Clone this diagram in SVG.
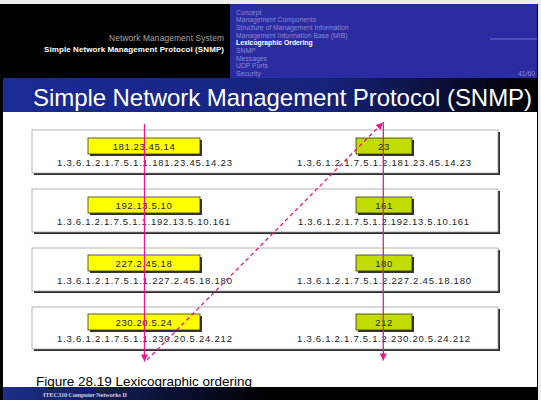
<svg xmlns="http://www.w3.org/2000/svg" width="541" height="400" viewBox="0 0 541 400">
<defs>
<linearGradient id="titleGrad" x1="0" y1="0" x2="1" y2="0">
<stop offset="0" stop-color="#1b2b96"/>
<stop offset="0.6" stop-color="#16237c"/>
<stop offset="1" stop-color="#000000"/>
</linearGradient>
<linearGradient id="footGrad" x1="0" y1="0" x2="1" y2="0">
<stop offset="0" stop-color="#1d2e8c"/>
<stop offset="0.5" stop-color="#000000"/>
<stop offset="1" stop-color="#000000"/>
</linearGradient>
<marker id="arrow" viewBox="0 0 10 10" refX="10" refY="5" markerWidth="8" markerHeight="7" markerUnits="userSpaceOnUse" orient="auto">
<path d="M0,0 L10,5 L0,10 z" fill="#e6198a"/>
</marker>
<style>
.nav{font-family:"Liberation Sans",Arial,sans-serif;font-size:6.8px;fill:#8a8ad2}
.navOn{font-family:"Liberation Sans",Arial,sans-serif;font-size:6.8px;fill:#ffffff;font-weight:bold}
.rowbox{fill:#ffffff;stroke:#a0a0a0;stroke-width:0.8}
.rowshadow{fill:#2a2a2a}
.ylab{fill:#ffff00;stroke:#333333;stroke-width:0.8}
.glab{fill:#c2dc00;stroke:#333333;stroke-width:0.8}
.lshadow{fill:#333333}
.lbl{font-family:"Liberation Sans",Arial,sans-serif;font-size:9.5px;fill:#222222;text-anchor:middle;letter-spacing:0.6px}
.oid{font-family:"Liberation Sans",Arial,sans-serif;font-size:9.5px;fill:#222222}
.solid{stroke:#e6198a;stroke-width:1.3;fill:none}
.dashed{stroke:#e6198a;stroke-width:1.3;fill:none;stroke-dasharray:4 3}
</style>
</defs>

<!-- slide frame -->
<rect x="0" y="0" width="541" height="400" fill="#eeeeee"/>
<rect x="0" y="4" width="538" height="396" fill="#000000"/>
<rect x="230" y="4" width="307" height="74" fill="#2b2ba2"/>
<rect x="3" y="78" width="534" height="34" fill="url(#titleGrad)"/>
<rect x="3" y="112" width="534" height="275" fill="#ffffff"/>
<rect x="3" y="387" width="534" height="13" fill="url(#footGrad)"/>

<!-- header -->
<g id="header">
<text x="224" y="41" text-anchor="end" font-family="Liberation Sans, Arial, sans-serif" font-size="8.4" fill="#a8a8a8" textLength="115">Network Management System</text>
<text x="224" y="52" text-anchor="end" font-family="Liberation Sans, Arial, sans-serif" font-size="8" font-weight="bold" fill="#ffffff" textLength="180">Simple Network Management Protocol (SNMP)</text>
<text class="nav" x="236" y="14.8">Concept</text>
<text class="nav" x="236" y="22.4">Management Components</text>
<text class="nav" x="236" y="30">Structure of Management Information</text>
<text class="nav" x="236" y="37.6">Management Information Base (MIB)</text>
<text class="navOn" x="236" y="45.2">Lexicographic Ordering</text>
<text class="nav" x="236" y="52.9">SNMP</text>
<text class="nav" x="236" y="60.5">Messages</text>
<text class="nav" x="236" y="68.1">UDP Ports</text>
<text class="nav" x="236" y="75.7">Security</text>
<line x1="490" y1="39" x2="537" y2="39" stroke="#8c8ce6" stroke-width="0.7"/>
<text class="nav" x="535" y="75.5" text-anchor="end">41/60</text>
</g>

<text x="33" y="106" font-family="Liberation Sans, Arial, sans-serif" font-size="24" fill="#ffffff" textLength="499">Simple Network Management Protocol (SNMP)</text>

<!-- rows -->
<g id="row1">
<rect class="rowshadow" x="34" y="132" width="466" height="43"/>
<rect class="rowbox" x="32" y="130" width="466" height="43"/>
<rect class="lshadow" x="90" y="140" width="112" height="16"/>
<rect class="ylab" x="88" y="138" width="112" height="16"/>
<text class="lbl" x="144" y="149.5">181.23.45.14</text>
<text class="oid" x="57" y="166" textLength="175">1.3.6.1.2.1.7.5.1.1.181.23.45.14.23</text>
<rect class="lshadow" x="358" y="140" width="56" height="16"/>
<rect class="glab" x="356" y="138" width="56" height="16"/>
<text class="lbl" x="384" y="149.5">23</text>
<text class="oid" x="297" y="166" textLength="174">1.3.6.1.2.1.7.5.1.2.181.23.45.14.23</text>
</g>
<g id="row2">
<rect class="rowshadow" x="34" y="191" width="466" height="43"/>
<rect class="rowbox" x="32" y="189" width="466" height="43"/>
<rect class="lshadow" x="90" y="199" width="112" height="16"/>
<rect class="ylab" x="88" y="197" width="112" height="16"/>
<text class="lbl" x="144" y="208.5">192.13.5.10</text>
<text class="oid" x="57" y="225" textLength="173">1.3.6.1.2.1.7.5.1.1.192.13.5.10.161</text>
<rect class="lshadow" x="358" y="199" width="56" height="16"/>
<rect class="glab" x="356" y="197" width="56" height="16"/>
<text class="lbl" x="384" y="208.5">161</text>
<text class="oid" x="298" y="225" textLength="171">1.3.6.1.2.1.7.5.1.2.192.13.5.10.161</text>
</g>
<g id="row3">
<rect class="rowshadow" x="34" y="250" width="466" height="43"/>
<rect class="rowbox" x="32" y="248" width="466" height="43"/>
<rect class="lshadow" x="90" y="257" width="112" height="16"/>
<rect class="ylab" x="88" y="255" width="112" height="16"/>
<text class="lbl" x="144" y="266.5">227.2.45.18</text>
<text class="oid" x="57" y="284" textLength="175">1.3.6.1.2.1.7.5.1.1.227.2.45.18.180</text>
<rect class="lshadow" x="358" y="257" width="56" height="16"/>
<rect class="glab" x="356" y="255" width="56" height="16"/>
<text class="lbl" x="384" y="266.5">180</text>
<text class="oid" x="297" y="284" textLength="174">1.3.6.1.2.1.7.5.1.2.227.2.45.18.180</text>
</g>
<g id="row4">
<rect class="rowshadow" x="34" y="309" width="466" height="42"/>
<rect class="rowbox" x="32" y="307" width="466" height="42"/>
<rect class="lshadow" x="90" y="316" width="112" height="16"/>
<rect class="ylab" x="88" y="314" width="112" height="16"/>
<text class="lbl" x="144" y="325.5">230.20.5.24</text>
<text class="oid" x="57" y="342" textLength="175">1.3.6.1.2.1.7.5.1.1.230.20.5.24.212</text>
<rect class="lshadow" x="358" y="316" width="56" height="16"/>
<rect class="glab" x="356" y="314" width="56" height="16"/>
<text class="lbl" x="384" y="325.5">212</text>
<text class="oid" x="297" y="342" textLength="173">1.3.6.1.2.1.7.5.1.2.230.20.5.24.212</text>
</g>

<!-- connectors -->
<g id="connectors">
<line class="solid" x1="144.5" y1="124" x2="144.5" y2="361.5" marker-end="url(#arrow)"/>
<line class="solid" x1="383.3" y1="122" x2="383.3" y2="360.5" marker-end="url(#arrow)"/>
<line class="dashed" x1="147" y1="360" x2="383" y2="122.5" marker-end="url(#arrow)"/>
</g>

<text x="36" y="385.5" font-family="Liberation Sans, Arial, sans-serif" font-size="13.5" fill="#000000">Figure 28.19 Lexicographic ordering</text>
<text x="43" y="397" font-family="Liberation Serif, Times New Roman, serif" font-size="6.5" font-weight="bold" fill="#c8c8e0" textLength="84">ITEC310 Computer Networks II</text>
</svg>
